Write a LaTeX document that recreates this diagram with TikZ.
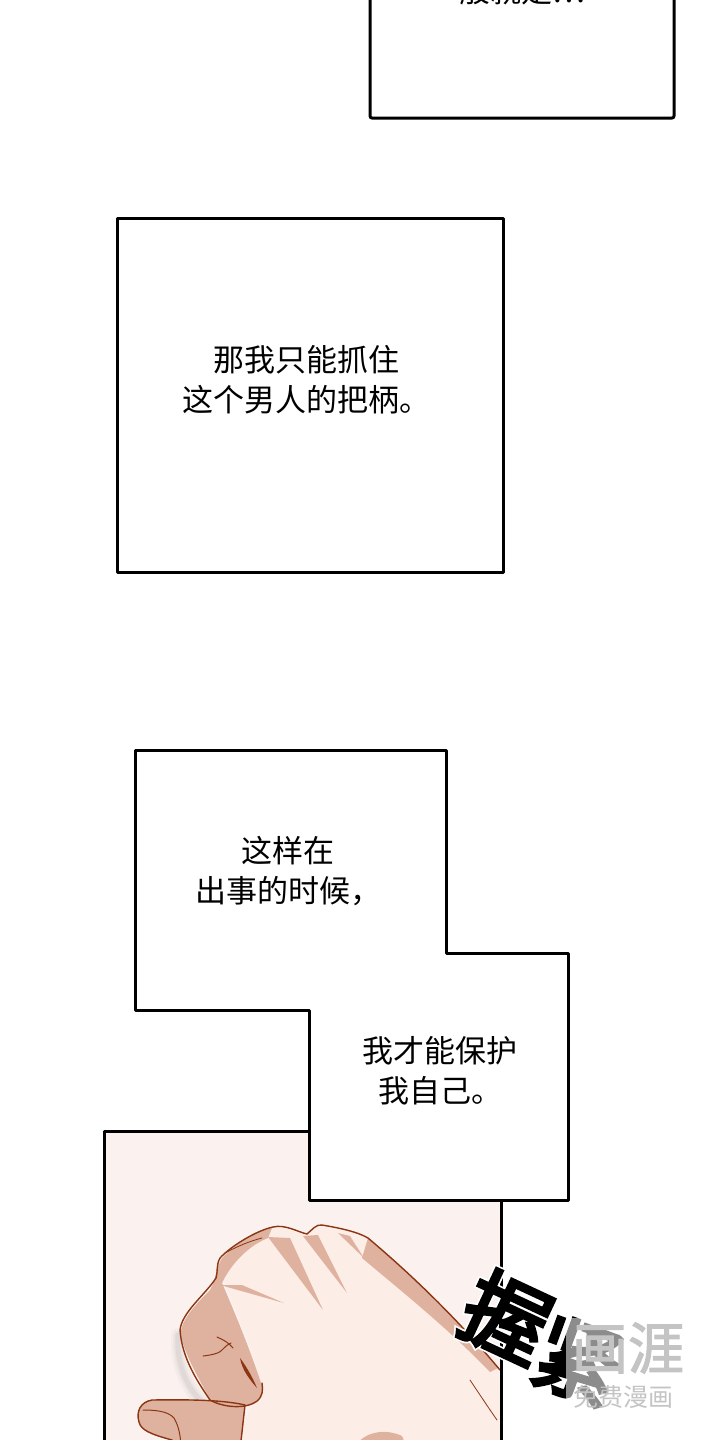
\documentclass[tikz,border=0pt]{standalone}
\usepackage{fontspec}
\setmainfont{Noto Sans CJK SC}
\newfontfamily\onoB{Noto Sans CJK SC}[FakeBold=4]
\newfontfamily\onoW{Noto Sans CJK SC}[FakeBold=8]
\newfontfamily\wmfont{Noto Sans CJK SC}[FakeBold=2]
\definecolor{panelbg}{HTML}{FBF2EF}
\definecolor{handlight}{HTML}{FCEDE7}
\definecolor{handdark}{HTML}{DFB2A0}
\definecolor{handline}{HTML}{8B3512}
\definecolor{wmgray}{HTML}{C4C4C4}
\tikzset{
  frame/.style={draw=black, line width=3pt, line join=round},
  caption/.style={font=\fontsize{31}{40}\selectfont, align=center, inner sep=0pt},
  outl/.style={draw=handline, line width=1.4pt, line cap=round, line join=round},
  sfx/.style={inner sep=0pt, font=\onoB\fontsize{86}{86}\selectfont},
  sfxhalo/.style={inner sep=0pt, text=white, font=\onoW\fontsize{86}{86}\selectfont},
}
\begin{document}
\begin{tikzpicture}[x=1pt,y=-1pt]
\useasboundingbox (0,0) rectangle (720,1440);
\clip (0,0) rectangle (720,1440);
\fill[white] (0,0) rectangle (720,1440);

% top box (cut)
\draw[frame, fill=white, rounded corners=2pt] (370,-10) rectangle (674,118);
\node[caption, anchor=base] (ttop) at (522,2) {般就是…};

% second box
\draw[frame, fill=white] (117,218) rectangle (503,572);
\node[caption] (t2) at (306,380) {那我只能抓住\\这个男人的把柄。};

% bottom panel with hand
\fill[panelbg] (104,1131) rectangle (501,1450);
\begin{scope}
\clip (104,1131) rectangle (501,1450);
% shadow
\foreach \o/\w in {0.05/14,0.07/9,0.1/5}{
  \draw[gray, opacity=\o, line width=\w pt, line cap=round] (178,1335) .. controls (176,1360) and (185,1385) .. (200,1400);
}
% light back of hand
\fill[handlight] (217,1262) .. controls (240,1240) and (262,1228) .. (273,1227)
  .. controls (285,1224) and (298,1232) .. (307,1234)
  .. controls (312,1230) and (316,1224) .. (322,1225)
  .. controls (340,1228) and (358,1232) .. (368,1238)
  .. controls (400,1265) and (450,1310) .. (498,1368)
  -- (505,1450) -- (230,1450) -- (262,1386)
  .. controls (250,1340) and (230,1300) .. (217,1262) -- cycle;
% index finger dark
\fill[handdark] (222,1258) .. controls (240,1240) and (260,1230) .. (272,1228)
  -- (268,1238) .. controls (250,1245) and (232,1262) .. (222,1283)
  .. controls (238,1320) and (252,1355) .. (262,1386)
  .. controls (264,1396) and (256,1404) .. (243,1406)
  .. controls (230,1408) and (216,1405) .. (210,1400)
  .. controls (200,1380) and (186,1358) .. (181,1336)
  .. controls (179,1322) and (195,1305) .. (210,1290)
  .. controls (216,1280) and (216,1268) .. (222,1258) -- cycle;
% knuckle stripes
\fill[handdark] (268,1237) -- (290,1238) -- (323,1310) -- cycle;
\fill[handdark] (303,1236) -- (318,1235) -- (347,1293) -- cycle;
\fill[handdark] (338,1233) -- (350,1236) -- (364,1258) -- cycle;
\fill[handdark] (220,1285) -- (242,1285) -- (284,1303) -- cycle;
% right band
\fill[handdark] (368,1238) .. controls (400,1265) and (450,1310) .. (498,1368)
  -- (490,1372) .. controls (450,1330) and (400,1290) .. (362,1258) -- cycle;
% wrist dark bottom right
\fill[handdark] (356,1445) .. controls (365,1432) and (385,1428) .. (402,1436) -- (408,1450) -- cycle;
% thumb
\path[fill=handdark, outl] (245,1405) .. controls (232,1402) and (210,1399) .. (152,1400)
  .. controls (140,1402) and (136,1412) .. (139,1422)
  .. controls (141,1430) and (150,1434) .. (172,1440)
  -- (178,1450) -- (240,1450) -- cycle;
\draw[outl, line width=1pt] (143,1410) .. controls (155,1410) and (168,1411) .. (174,1418) .. controls (178,1425) and (180,1432) .. (181,1445);
% outline of back of hand and index finger
\draw[outl] (500,1370) .. controls (450,1310) and (400,1265) .. (368,1238)
  .. controls (358,1232) and (340,1228) .. (322,1225)
  .. controls (316,1224) and (312,1230) .. (307,1234)
  .. controls (298,1232) and (285,1224) .. (273,1227)
  .. controls (258,1230) and (232,1245) .. (220,1258)
  .. controls (216,1265) and (218,1272) .. (216,1278)
  .. controls (205,1295) and (182,1312) .. (180,1330)
  .. controls (182,1360) and (200,1385) .. (210,1400)
  .. controls (222,1407) and (245,1410) .. (257,1401)
  .. controls (263,1396) and (263,1390) .. (262,1383);
% finger creases
\draw[outl, line width=1pt] (203,1356) .. controls (212,1355) and (220,1353) .. (222,1350) .. controls (226,1346) and (228,1344) .. (231,1343);
\draw[outl, line width=1pt] (217,1337) .. controls (224,1340) and (229,1343) .. (233,1348);
\fill[handline] (240,1358) .. controls (246,1366) and (252,1376) .. (257,1388) .. controls (250,1380) and (242,1370) .. (240,1358) -- cycle;
\draw[outl, line width=0.8pt] (225,1253) .. controls (238,1246) and (250,1241) .. (262,1238);
\draw[outl, line width=0.8pt] (470,1380) .. controls (480,1395) and (490,1410) .. (497,1420);
\end{scope}
\draw[frame] (104,1450) -- (104,1131) -- (501,1131) -- (501,1450);

% L-shaped box
\path[frame, fill=white] (135,750) -- (446,750) -- (446,953) -- (568,953) -- (568,1200) -- (309,1200) -- (309,1010) -- (135,1010) -- cycle;
\node[caption] (t3a) at (288,871) {这样在\\出事的时候，};
\node[caption] (t3b) at (440,1071) {我才能保护\\我自己。};

% sound effect: white halo then black glyph
\node[sfxhalo, rotate=-25] (sfxahalo) at (507,1317) {握};
\node[sfxhalo, rotate=-20] (sfxbhalo) at (578,1361) {紧};
\node[sfx, rotate=-25, text=black] (sfxa) at (507,1317) {握};
\node[sfx, rotate=-20, text=black] (sfxb) at (578,1361) {紧};

% watermark
\fill[white, opacity=0.55] (566,1318) rectangle (690,1412);
\node[inner sep=0pt, text=wmgray, font=\wmfont\fontsize{56}{56}\selectfont] (wm1) at (628,1348) {画涯};
\node[inner sep=0pt, text=wmgray, font=\fontsize{25}{25}\selectfont] (wm2) at (623,1397) {免费漫画};
\end{tikzpicture}
\end{document}
